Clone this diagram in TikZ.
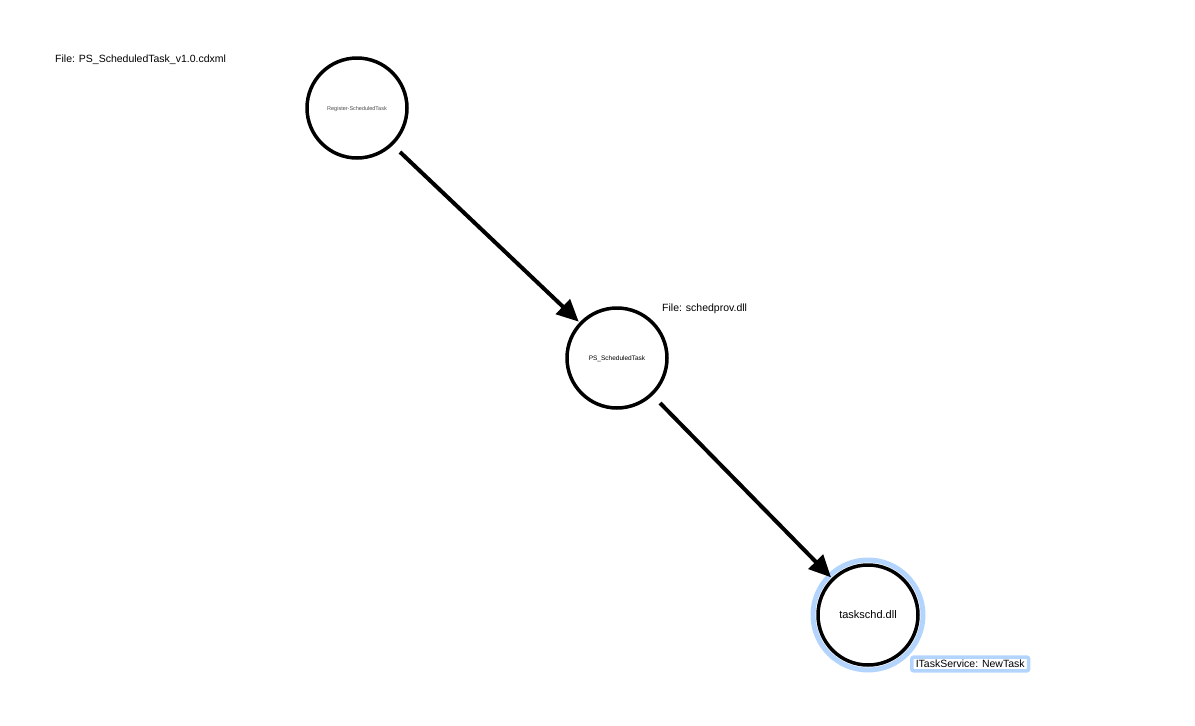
\documentclass[tikz,border=0pt]{standalone}
\usepackage{fontspec}
\setmainfont{Liberation Sans}
\usetikzlibrary{arrows.meta}
\definecolor{halo}{HTML}{B3D4FC}
\begin{document}
\begin{tikzpicture}[x=1pt,y=-1pt,
  proc/.style={circle,draw=black,line width=3.5pt,minimum size=100pt,inner sep=0pt,fill=white},
  lbl/.style={font=\fontsize{10.5pt}{12pt}\selectfont,inner sep=0pt},
  conn/.style={line width=4pt,-{Triangle[length=22pt,width=20pt]},shorten >=1pt}]
\useasboundingbox (0,0) rectangle (1195,726);
\node[proc] (reg) at (357,108) {};
\node[font=\fontsize{5.5pt}{6pt}\selectfont,text=black!70] (regt) at (357,109) {Register-ScheduledTask};
\node[proc] (ps) at (617,358) {};
\node[font=\fontsize{6.5pt}{7pt}\selectfont] (pst) at (617,359) {PS\_ScheduledTask};
\node[circle,draw=halo,line width=5pt,minimum size=110pt,inner sep=0pt] (halo) at (868,615) {};
\node[proc] (ts) at (868,615) {};
\node[font=\fontsize{11pt}{13pt}\selectfont] (tst) at (868,615) {taskschd.dll};
\node[lbl,anchor=west] (f1) at (55,60) {File: PS\_ScheduledTask\_v1.0.cdxml};
\node[lbl,anchor=west] (f2) at (662,309) {File: schedprov.dll};
\node[lbl,draw=halo,line width=3.5pt,rounded corners=2pt,inner xsep=4pt,inner ysep=3pt,fill=white,anchor=west] (its) at (910,664) {ITaskService: NewTask};
\draw[conn] (400,152) -- (ps);
\draw[conn] (660,403) -- (ts);
\end{tikzpicture}
\end{document}
